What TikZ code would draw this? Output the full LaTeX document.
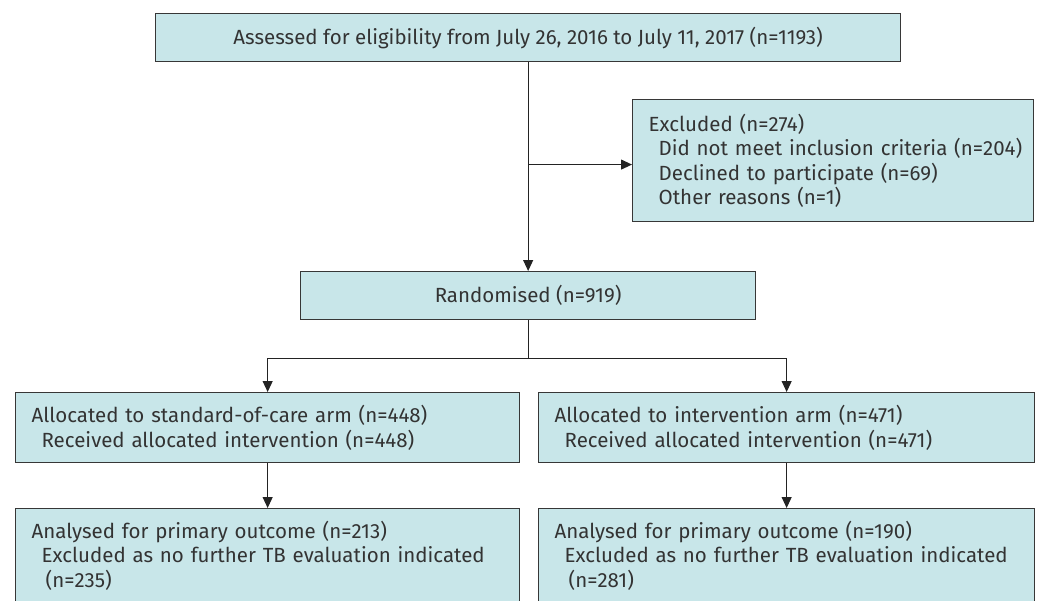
\documentclass[tikz,border=0pt]{standalone}
\usepackage{fontspec}
\setmainfont{Fira Sans}
\usetikzlibrary{positioning, calc, arrows.meta}
\definecolor{boxfill}{RGB}{200, 230, 233}
\definecolor{boxline}{RGB}{55, 55, 55}
\definecolor{flowline}{RGB}{35, 35, 35}
\newcommand{\sub}{\hspace*{10pt}}

\begin{document}
\begin{tikzpicture}[
  x=1pt, y=-1pt,
  flowbox/.style={draw=boxline, fill=boxfill, line width=1.3pt, anchor=north west,
    inner xsep=16pt, inner ysep=0pt, align=left, text=black!80,
    font=\fontsize{20.5}{24.5}\selectfont},
  centrebox/.style={flowbox, align=center},
  flowarrow/.style={draw=flowline, line width=1.1pt, -{Triangle[length=11pt, width=10pt]}},
  flowline/.style={draw=flowline, line width=1.1pt},
]
\useasboundingbox (0, 0) rectangle (1037, 602);
\clip (0, 0) rectangle (1037, 600.5);

% Enrolment
\node[centrebox, minimum width=745pt, minimum height=48pt] (assessed) at (155, 13)
  {Assessed for eligibility from July 26, 2016 to July 11, 2017 (n=1193)};
\node[flowbox, text width=369pt, minimum height=122pt] (excluded) at (632, 99)
  {Excluded (n=274)\\
   \mbox{\sub Did not meet inclusion criteria (n=204)}\\
   \sub Declined to participate (n=69)\\
   \sub Other reasons (n=1)};
\node[centrebox, minimum width=455pt, minimum height=48pt] (randomised) at (300, 271)
  {Randomised (n=919)};

% Allocation
\node[flowbox, text width=472pt, minimum height=70pt] (socarm) at (15, 392)
  {Allocated to standard-of-care arm (n=448)\\
   \sub Received allocated intervention (n=448)};
\node[flowbox, text width=464pt, minimum height=70pt] (intarm) at (538, 392)
  {Allocated to intervention arm (n=471)\\
   \sub Received allocated intervention (n=471)};

% Analysis
\node[flowbox, text width=472pt, minimum height=94pt] (socanalysis) at (15, 508)
  {Analysed for primary outcome (n=213)\\
   \sub Excluded as no further TB evaluation indicated\\
   \hspace*{14pt}(n=235)};
\node[flowbox, text width=464pt, minimum height=94pt] (intanalysis) at (538, 508)
  {Analysed for primary outcome (n=190)\\
   \sub Excluded as no further TB evaluation indicated\\
   \hspace*{14pt}(n=281)};

% Connectors
\coordinate (exclsplit) at ($(assessed.south)!0.49!(randomised.north)$);
\coordinate (armsplit) at ($(randomised.south) + (0, 38)$);
\draw[flowarrow] (assessed.south) -- (randomised.north);
\draw[flowarrow] (exclsplit) -- (exclsplit -| excluded.west);
\draw[flowline] (randomised.south) -- (armsplit);
\draw[flowarrow] (armsplit) -| (socarm.north);
\draw[flowarrow] (armsplit) -| (intarm.north);
\draw[flowarrow] (socarm.south) -- (socanalysis.north);
\draw[flowarrow] (intarm.south) -- (intanalysis.north);

\end{tikzpicture}
\end{document}
